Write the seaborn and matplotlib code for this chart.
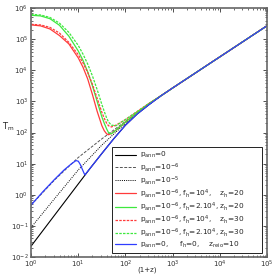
import numpy as np
import matplotlib
matplotlib.use("Agg")
import matplotlib.pyplot as plt
import seaborn as sns

# values, as log10(1+z) and log10(T_m)
lx_base = [0.0, 0.5, 1.0, 1.25, 1.5, 1.75, 2.0, 2.25, 2.5, 2.75, 3.0, 4.0, 5.0]
lt_p0 = [-1.65, -0.65, 0.35, 0.85, 1.33, 1.80, 2.24, 2.60, 2.90, 3.18, 3.435, 4.435, 5.435]
lt_p6 = [-0.33, 0.48, 1.20, 1.50, 1.80, 2.08, 2.36, 2.65, 2.92, 3.18, 3.435, 4.435, 5.435]
lt_p5 = [-1.05, -0.12, 0.80, 1.20, 1.60, 1.95, 2.30, 2.62, 2.91, 3.18, 3.435, 4.435, 5.435]

lx_h = [0.0, 0.2, 0.4, 0.6, 0.8, 1.0, 1.1, 1.2, 1.3, 1.4, 1.5, 1.55, 1.6, 1.64, 1.7, 1.8,
        2.0, 2.25, 2.5, 2.75, 3.0, 4.0, 5.0]
lt_r20 = [5.46, 5.43, 5.33, 5.12, 4.85, 4.40, 4.10, 3.72, 3.22, 2.68, 2.22, 2.06, 1.96, 1.93,
          1.97, 2.08, 2.34, 2.64, 2.93, 3.18, 3.435, 4.435, 5.435]
lt_g20 = [5.77, 5.75, 5.66, 5.45, 5.10, 4.62, 4.32, 3.95, 3.50, 3.00, 2.50, 2.30, 2.12, 2.00,
          1.96, 2.08, 2.34, 2.64, 2.93, 3.18, 3.435, 4.435, 5.435]
lt_r30 = [5.48, 5.46, 5.38, 5.20, 4.90, 4.50, 4.24, 3.93, 3.55, 3.10, 2.65, 2.46, 2.30, 2.22,
          2.18, 2.24, 2.42, 2.68, 2.94, 3.18, 3.435, 4.435, 5.435]
lt_g30 = [5.80, 5.78, 5.70, 5.52, 5.22, 4.80, 4.52, 4.20, 3.82, 3.38, 2.90, 2.68, 2.47, 2.34,
          2.24, 2.22, 2.42, 2.68, 2.94, 3.18, 3.435, 4.435, 5.435]

lx_reio = [0.0, 0.25, 0.5, 0.7, 0.85, 0.95, 1.0, 1.04, 1.08, 1.12, 1.14, 1.25, 1.5, 1.75,
           2.0, 2.25, 2.5, 2.75, 3.0, 4.0, 5.0]
lt_reio = [-0.33, 0.10, 0.50, 0.80, 0.99, 1.10, 1.08, 0.98, 0.84, 0.70, 0.64, 0.85, 1.33,
           1.80, 2.24, 2.60, 2.90, 3.18, 3.435, 4.435, 5.435]

labels = [
    r"p$_{\rm ann}$=0",
    r"p$_{\rm ann}$=10$^{-6}$",
    r"p$_{\rm ann}$=10$^{-5}$",
    r"p$_{\rm ann}$=10$^{-6}$, f$_{\rm h}$=10$^4$,    z$_{\rm h}$=20",
    r"p$_{\rm ann}$=10$^{-6}$, f$_{\rm h}$=2.10$^4$, z$_{\rm h}$=20       ",
    r"p$_{\rm ann}$=10$^{-6}$, f$_{\rm h}$=10$^4$,    z$_{\rm h}$=30",
    r"p$_{\rm ann}$=10$^{-6}$, f$_{\rm h}$=2.10$^4$, z$_{\rm h}$=30",
    r"p$_{\rm ann}$=0,     f$_{\rm h}$=0,    z$_{\rm reio}$=10",
]

red = "#ff3b3b"
green = "#3ee83e"
blue = "#2f3dff"

series = [
    (lx_base, lt_p0, "black", "-", 0.8),
    (lx_base, lt_p6, "#555555", (0, (3, 1.5)), 0.7),
    (lx_base, lt_p5, "black", (0, (1, 1.2)), 0.7),
    (lx_h, lt_r20, red, "-", 0.9),
    (lx_h, lt_g20, green, "-", 0.9),
    (lx_h, lt_r30, red, (0, (2, 1)), 0.9),
    (lx_h, lt_g30, green, (0, (2, 1)), 0.9),
    (lx_reio, lt_reio, blue, "-", 0.9),
]

sns.set_style("ticks")
plt.rcParams["font.family"] = ["DejaVu Sans"]
plt.rcParams["mathtext.default"] = "regular"

fig = plt.figure(figsize=(2.8, 2.8), dpi=100)
ax = fig.add_axes([0.111, 0.082, 0.843, 0.889])

for (lx, lt, col, ls, lw), lab in zip(series, labels):
    x = 10 ** np.array(lx)
    y = 10 ** np.array(lt)
    sns.lineplot(x=x, y=y, ax=ax, color=col, linestyle=ls, linewidth=lw,
                 label=lab, sort=False, estimator=None)

ax.set_xscale("log")
ax.set_yscale("log")
ax.set_xlim(1, 1e5)
ax.set_ylim(1e-2, 1e6)
ax.set_xticks([10.0 ** k for k in range(0, 6)])
ax.set_yticks([10.0 ** k for k in range(-2, 7)])
ax.tick_params(which="both", direction="in", top=True, right=True, labelsize=5,
               colors="#333333")
ax.tick_params(axis="x", pad=1.5)
ax.tick_params(axis="y", pad=2)
ax.tick_params(which="major", length=3, width=0.6)
ax.tick_params(which="minor", length=1.5, width=0.5)
for sp in ax.spines.values():
    sp.set_linewidth(1.2)
    sp.set_color("#666666")

ax.set_xlabel("(1+z)", fontsize=5)
ax.xaxis.set_label_coords(0.49, -0.04)
ax.set_ylabel(r"T$_{\rm m}$", fontsize=6, rotation=0)
ax.yaxis.set_label_coords(-0.095, 0.5)

leg = ax.legend(loc="lower right", bbox_to_anchor=(0.979, 0.016), fontsize=5.3,
                frameon=True, fancybox=False, edgecolor="#222222", framealpha=1,
                handlelength=2.9, labelspacing=0.08, borderpad=0.45, handletextpad=0.5,
                borderaxespad=0)
leg.get_frame().set_linewidth(0.7)

fig.savefig("out.png", dpi=100)
